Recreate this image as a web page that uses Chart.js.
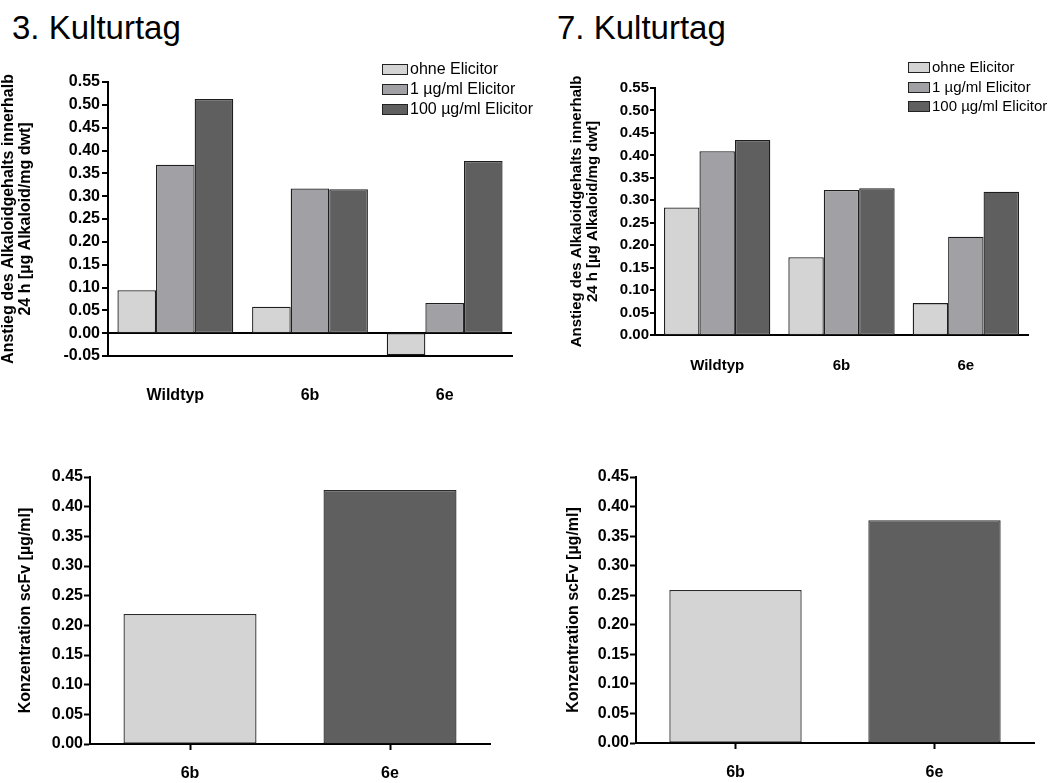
<!DOCTYPE html>
<html lang="de">
<head>
<meta charset="utf-8">
<title>Kulturtag</title>
<script src="https://cdn.jsdelivr.net/npm/chart.js@4/dist/chart.umd.min.js"></script>
<style>
  body { margin: 0; background: #fff; font-family: "Liberation Sans", Arial, sans-serif; }
  #wrap { position: relative; width: 1055px; height: 783px; overflow: hidden; }
  canvas { position: absolute; }
  .titel { position: absolute; font-size: 33px; color: #000; line-height: 1; }
  .legende { position: absolute; color: #000; }
  .legende .zeile { position: absolute; white-space: nowrap; }
  .legende .box { position: absolute; border: 1px solid #222; box-sizing: border-box; }
</style>
</head>
<body>
<div id="wrap">
  <div class="titel" style="left:12px; top:11px;">3. Kulturtag</div>
  <div class="titel" style="left:557px; top:11px;">7. Kulturtag</div>
  <canvas id="tag3Oben" width="530" height="350" style="left:0; top:60px;"></canvas>
  <canvas id="tag7Oben" width="515" height="350" style="left:540px; top:60px;"></canvas>
  <canvas id="tag3Unten" width="530" height="323" style="left:0; top:460px;"></canvas>
  <canvas id="tag7Unten" width="515" height="323" style="left:540px; top:460px;"></canvas>
  <div id="legende3" class="legende"></div>
  <div id="legende7" class="legende"></div>
</div>

<script>
// ----------------------------------------------------------
// Daten
// ----------------------------------------------------------
const kategorienOben = ["Wildtyp", "6b", "6e"];
const serienNamen = ["ohne Elicitor", "1 µg/ml Elicitor", "100 µg/ml Elicitor"];
const serienFarben = ["#d4d4d4", "#a1a1a5", "#5f5f5f"];

// 3. Kulturtag
const tag3Ohne = [0.094, 0.058, -0.048];
const tag3Ein = [0.369, 0.317, 0.066];
const tag3Hundert = [0.513, 0.315, 0.377];

// 7. Kulturtag
const tag7Ohne = [0.284, 0.173, 0.071];
const tag7Ein = [0.409, 0.323, 0.219];
const tag7Hundert = [0.434, 0.327, 0.319];

// scFv-Konzentration
const kategorienUnten = ["6b", "6e"];
const scfvTag3 = [0.219, 0.428];
const scfvTag7 = [0.259, 0.377];
const farbenUnten = ["#d4d4d4", "#5f5f5f"];

const titelOben = ["Anstieg des Alkaloidgehalts innerhalb", "24 h [µg Alkaloid/mg dwt]"];
const titelUnten = "Konzentration scFv [µg/ml]";

const SCHRIFT = "'Liberation Sans', Arial, sans-serif";

// ----------------------------------------------------------
// Hilfsfunktion: Tick-Beschriftung mit zwei Nachkommastellen
// ----------------------------------------------------------
function tickText(value) {
  if (Math.abs(value) < 1e-9) value = 0;
  return value.toFixed(2);
}

// ----------------------------------------------------------
// Gruppiertes Balkendiagramm (obere Reihe)
// ----------------------------------------------------------
function gruppenChart(canvasId, reihen, cfg) {
  const ctx = document.getElementById(canvasId).getContext("2d");
  return new Chart(ctx, {
    type: "bar",
    data: {
      labels: kategorienOben,
      datasets: reihen.map((werte, i) => ({
        label: serienNamen[i],
        data: werte,
        backgroundColor: serienFarben[i],
        borderColor: "#1e1e1e",
        borderWidth: 1.3,
        borderSkipped: false,
        categoryPercentage: cfg.katProzent,
        barPercentage: 1.0,
      })),
    },
    options: {
      responsive: false,
      animation: false,
      layout: { padding: { top: cfg.oben, right: cfg.rechts, left: 0, bottom: 0 } },
      plugins: { legend: { display: false }, tooltip: { enabled: false } },
      scales: {
        x: {
          grid: { display: false },
          border: { display: true, color: "#000", width: 2 },
          ticks: {
            color: "#000",
            padding: cfg.xPadding,
            font: { family: SCHRIFT, size: cfg.schrift, weight: "bold" },
          },
          afterFit: (s) => { s.height = cfg.xHoehe; },
        },
        y: {
          min: cfg.min,
          max: 0.55,
          ticks: {
            stepSize: 0.05,
            color: "#000",
            padding: cfg.tickPadding,
            font: { family: SCHRIFT, size: cfg.schrift, weight: "bold" },
            callback: tickText,
          },
          grid: {
            drawOnChartArea: true,
            drawTicks: true,
            tickLength: cfg.tickLaenge,
            tickColor: "#000",
            tickWidth: 2,
            // nur die Nulllinie durchziehen
            color: (c) => (c.tick && Math.abs(c.tick.value) < 1e-9 ? "#000" : "rgba(0,0,0,0)"),
            lineWidth: (c) => (c.tick && Math.abs(c.tick.value) < 1e-9 && cfg.min < 0 ? 2 : 0),
          },
          border: { display: true, color: "#000", width: 2 },
          title: {
            display: true,
            text: titelOben,
            color: "#000",
            padding: { top: cfg.titelAbstand, bottom: 0 },
            font: { family: SCHRIFT, size: cfg.titelSchrift, weight: "bold", lineHeight: 1.05 },
          },
          afterFit: (s) => { s.width = cfg.yBreite; },
        },
      },
    },
  });
}

// ----------------------------------------------------------
// Einfaches Balkendiagramm (untere Reihe)
// ----------------------------------------------------------
function einzelChart(canvasId, werte, cfg) {
  const ctx = document.getElementById(canvasId).getContext("2d");
  return new Chart(ctx, {
    type: "bar",
    data: {
      labels: kategorienUnten,
      datasets: [
        {
          data: werte,
          backgroundColor: farbenUnten,
          borderColor: "#2a2a2a",
          borderWidth: 1.3,
          borderSkipped: false,
          categoryPercentage: 0.665,
          barPercentage: 1.0,
        },
      ],
    },
    options: {
      responsive: false,
      animation: false,
      layout: { padding: { top: cfg.oben, right: cfg.rechts, left: 0, bottom: 0 } },
      plugins: { legend: { display: false }, tooltip: { enabled: false } },
      scales: {
        x: {
          grid: {
            display: true,
            offset: false,
            drawOnChartArea: false,
            drawTicks: true,
            tickLength: 6,
            tickColor: "#000",
            tickWidth: 2,
          },
          border: { display: true, color: "#000", width: 2 },
          ticks: {
            color: "#000",
            padding: 14,
            font: { family: SCHRIFT, size: 16, weight: "bold" },
          },
          afterFit: (s) => { s.height = cfg.xHoehe; },
        },
        y: {
          min: 0,
          max: 0.45,
          ticks: {
            stepSize: 0.05,
            color: "#000",
            padding: 1,
            font: { family: SCHRIFT, size: 16, weight: "bold" },
            callback: tickText,
          },
          grid: {
            drawOnChartArea: false,
            drawTicks: true,
            tickLength: 6,
            tickColor: "#000",
            tickWidth: 2,
          },
          border: { display: true, color: "#000", width: 2 },
          title: {
            display: true,
            text: titelUnten,
            color: "#000",
            padding: { top: cfg.titelAbstand, bottom: 0 },
            font: { family: SCHRIFT, size: 16, weight: "bold" },
          },
          afterFit: (s) => { s.width = cfg.yBreite; },
        },
      },
    },
  });
}

// ----------------------------------------------------------
// Legende als HTML (liegt über dem Diagramm)
// ----------------------------------------------------------
function baueLegende(id, links, oben, boxB, zeilenAbstand, schrift) {
  const el = document.getElementById(id);
  el.style.left = links + "px";
  el.style.top = oben + "px";
  el.style.fontSize = schrift + "px";
  serienNamen.forEach((name, i) => {
    const y = i * zeilenAbstand;
    const box = document.createElement("div");
    box.className = "box";
    box.style.left = "0px";
    box.style.top = y - 5 + "px";
    box.style.width = boxB + "px";
    box.style.height = "11px";
    box.style.background = serienFarben[i];
    el.appendChild(box);

    const txt = document.createElement("div");
    txt.className = "zeile";
    txt.style.left = boxB + 2 + "px";
    txt.style.top = y - schrift * 0.58 + "px";
    txt.textContent = name;
    el.appendChild(txt);
  });
}

// ----------------------------------------------------------
// Diagramme erzeugen
// ----------------------------------------------------------
gruppenChart("tag3Oben", [tag3Ohne, tag3Ein, tag3Hundert], {
  min: -0.05, oben: 22, rechts: 18, yBreite: 108, xHoehe: 54, xPadding: 22,
  katProzent: 0.86, schrift: 16, titelSchrift: 16, titelAbstand: 0,
  tickLaenge: 6, tickPadding: 2,
});

gruppenChart("tag7Oben", [tag7Ohne, tag7Ein, tag7Hundert], {
  min: 0, oben: 28, rechts: 27, yBreite: 115, xHoehe: 75, xPadding: 14,
  katProzent: 0.855, schrift: 15, titelSchrift: 15, titelAbstand: 29,
  tickLaenge: 5, tickPadding: 1,
});

einzelChart("tag3Unten", scfvTag3, { oben: 17, rechts: 40, yBreite: 90, xHoehe: 39, titelAbstand: 16 });
einzelChart("tag7Unten", scfvTag7, { oben: 17, rechts: 21, yBreite: 96, xHoehe: 40, titelAbstand: 24 });

baueLegende("legende3", 382, 69, 26, 20, 16);
baueLegende("legende7", 908, 67, 22, 19.5, 15);
</script>
</body>
</html>
